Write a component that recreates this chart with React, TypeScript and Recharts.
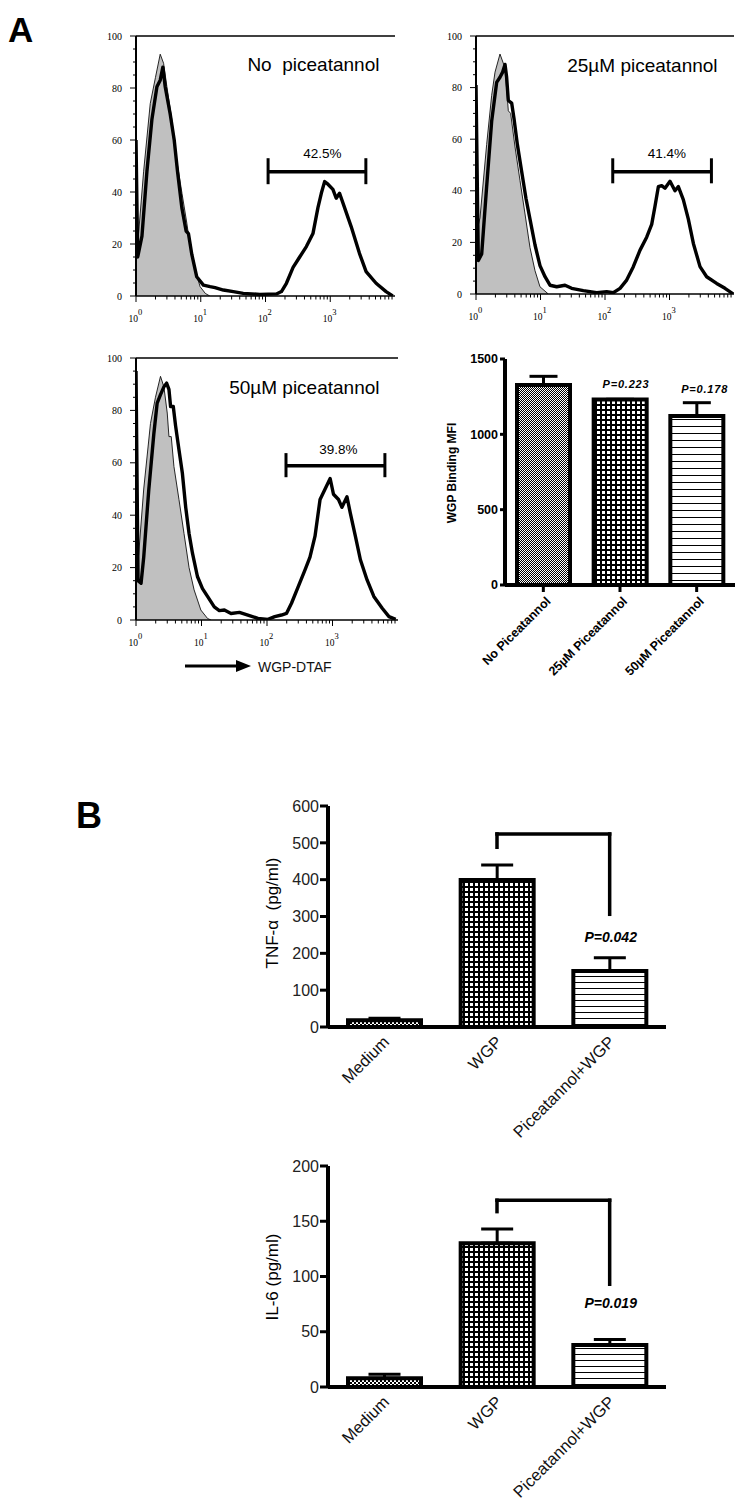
import React from 'react';
import {
  ComposedChart, Area, Line, XAxis, YAxis, ReferenceLine, ReferenceDot,
  BarChart, Bar, ErrorBar, Cell,
} from 'recharts';

type Pt = [number, number];

const SANS = '"Liberation Sans", Arial, Helvetica, sans-serif';
const SERIF = '"Liberation Serif", "Times New Roman", serif';

// ---------------- Panel A: flow histograms (x = log10 intensity, y = % max) ----------------
const histTitles = ['No\u00A0 piceatannol', '25µM piceatannol', '50µM piceatannol'];
const histTitlePos: Pt[] = [[2.74, 89.2], [2.58, 88.8], [2.57, 88.7]];
const gateLabels = ['42.5%', '41.4%', '39.8%'];
const gateLabelPos: Pt[] = [[2.88, 55], [2.96, 54.5], [3.09, 65]];
const gateStart = [2.04, 2.12, 2.29];
const gateEnd = [3.55, 3.65, 3.8];
const gateLevel = [47.8, 47.4, 58.9];
const gateCapLow = [43, 42.9, 54.5];
const gateCapHigh = [53, 52.6, 63.7];

const isoNoPic: Pt[] = [
  [0, 17.7], [0.04, 24], [0.118, 48], [0.22, 74], [0.3, 84], [0.374, 93], [0.426, 89.5],
  [0.477, 80.5], [0.554, 67.7], [0.63, 52], [0.71, 39.5], [0.785, 28], [0.836, 19],
  [0.913, 10], [0.99, 3.6], [1.07, 1], [1.14, 0],
];
const sampleNoPic: Pt[] = [
  [0, 60], [0.026, 15], [0.092, 23], [0.169, 48], [0.246, 68], [0.323, 80.5], [0.374, 83],
  [0.415, 88], [0.451, 80.5], [0.528, 70], [0.59, 60], [0.641, 48], [0.708, 34], [0.774, 25],
  [0.81, 24], [0.862, 16], [0.938, 7.4], [1.041, 4.2], [1.144, 3.6], [1.221, 3.2], [1.349, 2.3],
  [1.503, 1.7], [1.656, 1], [1.913, 0.6], [2.169, 0.8], [2.246, 1.7], [2.323, 4.9], [2.426, 11],
  [2.528, 15], [2.631, 19], [2.733, 24], [2.81, 34], [2.862, 39.5], [2.913, 44], [2.964, 43],
  [3.041, 41], [3.092, 37.6], [3.144, 39.5], [3.221, 34], [3.323, 26.7], [3.451, 16.4],
  [3.554, 9.4], [3.708, 4.9], [3.862, 1.7], [3.964, 0],
];
const iso25: Pt[] = [
  [0, 23], [0.062, 29.5], [0.165, 57.9], [0.243, 77], [0.295, 86], [0.372, 93], [0.45, 87.6],
  [0.501, 71], [0.537, 70], [0.605, 57], [0.682, 44], [0.76, 31], [0.837, 18], [0.915, 9],
  [0.992, 2.8], [1.121, 0],
];
const sample25: Pt[] = [
  [0, 81], [0.036, 13], [0.088, 15.5], [0.165, 41.6], [0.243, 67], [0.32, 82], [0.372, 84],
  [0.413, 86], [0.45, 89], [0.475, 84], [0.501, 75], [0.553, 74], [0.589, 68], [0.641, 58],
  [0.708, 47.5], [0.775, 37], [0.837, 29], [0.915, 19], [0.992, 11], [1.07, 6.7], [1.147, 3.4],
  [1.251, 2.8], [1.38, 3.4], [1.483, 2.2], [1.664, 1.3], [1.871, 0.5], [2.026, 0.9], [2.129, 0.5],
  [2.233, 2.2], [2.336, 5.4], [2.439, 10.6], [2.543, 17], [2.646, 22], [2.724, 27], [2.775, 34],
  [2.827, 41.6], [2.879, 42], [2.93, 41], [3.008, 43.7], [3.085, 40], [3.137, 41.6],
  [3.214, 36.6], [3.292, 29], [3.37, 19.6], [3.473, 10.6], [3.576, 6.7], [3.731, 4.1],
  [3.86, 2.2], [3.99, 0],
];
const iso50: Pt[] = [
  [0, 17.8], [0.041, 25], [0.118, 50], [0.221, 75], [0.297, 85], [0.374, 93], [0.426, 89],
  [0.477, 79], [0.503, 70], [0.538, 70], [0.579, 58.6], [0.656, 46], [0.733, 33], [0.81, 20],
  [0.887, 11.5], [0.99, 3.8], [1.092, 0.6], [1.144, 0],
];
const sample50: Pt[] = [
  [0, 95], [0.031, 15], [0.077, 14], [0.118, 24], [0.195, 49.7], [0.272, 71], [0.323, 82.8],
  [0.374, 86], [0.426, 89], [0.467, 90.4], [0.503, 88], [0.528, 81.5], [0.569, 81.5],
  [0.605, 74], [0.656, 65], [0.708, 56], [0.759, 43], [0.81, 33], [0.862, 25.5], [0.938, 16.6],
  [1.015, 12], [1.092, 9], [1.195, 5], [1.272, 3.6], [1.349, 3.8], [1.451, 2.5], [1.579, 2.9],
  [1.708, 1.9], [1.862, 0.6], [2.015, 0.25], [2.118, 1.3], [2.221, 1.9], [2.297, 2.5],
  [2.374, 6.4], [2.477, 12.7], [2.579, 19], [2.656, 24], [2.733, 32], [2.81, 46], [2.887, 50],
  [2.964, 54], [3.015, 48], [3.092, 46], [3.144, 43], [3.221, 47], [3.272, 40.8], [3.349, 32],
  [3.426, 23], [3.528, 15.3], [3.631, 9], [3.759, 4.5], [3.862, 1.3], [3.964, 0.25],
];
const isoCurves = [isoNoPic, iso25, iso50];
const sampleCurves = [sampleNoPic, sample25, sample50];

const decadeExponents = [0, 1, 2, 3];
const decadeMinor = [2, 3, 4, 5, 6, 7, 8, 9];
const pctLabels = [0, 20, 40, 60, 80, 100];
const pctMinorStep = 5;

const logTicks: number[] = [];
decadeExponents.forEach((d) => {
  logTicks.push(d);
  decadeMinor.forEach((k) => logTicks.push(d + Math.log10(k)));
});
const pctTicks: number[] = [];
for (let v = 0; v <= 100; v += pctMinorStep) pctTicks.push(v);

// ---------------- Panel A: MFI bar chart ----------------
const mfiCategories = ['No Piceatannol', '25µM Piceatannol', '50µM Piceatannol'];
const mfiMean = [1328, 1232, 1122];
const mfiErr = [57, 0, 88];
const mfiPText = ['', 'P=0.223', 'P=0.178'];
const mfiPLevel = [0, 1334, 1301];
const mfiTicks = [0, 500, 1000, 1500];

// ---------------- Panel B: cytokines ----------------
const cytoCategories = ['Medium', 'WGP', 'Piceatannol+WGP'];
const tnfMean = [18, 399, 152];
const tnfErr = [6, 41, 36];
const tnfTicks = [0, 100, 200, 300, 400, 500, 600];
const tnfBracket = { top: 524, leftEnd: 488, rightEnd: 306 };
const tnfP = { text: 'P=0.042', level: 245 };

const il6Mean = [8, 130, 38];
const il6Err = [3.5, 13, 5];
const il6Ticks = [0, 50, 100, 150, 200];
const il6Bracket = { top: 169, leftEnd: 158.7, rightEnd: 93 };
const il6P = { text: 'P=0.019', level: 75.6 };

const barPatterns = ['checker', 'grid', 'hlines'];

const toXY = (pts: Pt[]) => pts.map(([x, y]) => ({ x, y }));

const patternDefs = (id: string, cell: number, lineGap: number) => (
  <defs>
    <pattern id={`${id}-checker`} patternUnits="userSpaceOnUse" width={cell * 2} height={cell * 2}>
      <rect width={cell * 2} height={cell * 2} fill="#fff" />
      <rect width={cell} height={cell} fill="#000" />
      <rect x={cell} y={cell} width={cell} height={cell} fill="#000" />
    </pattern>
    <pattern id={`${id}-grid`} patternUnits="userSpaceOnUse" width={5} height={5}>
      <rect width={5} height={5} fill="#000" />
      <rect x={2} y={2} width={3} height={3} fill="#fff" />
    </pattern>
    <pattern id={`${id}-hlines`} patternUnits="userSpaceOnUse" width={8} height={lineGap}>
      <rect width={8} height={lineGap} fill="#fff" />
      <rect width={8} height={1} fill="#000" />
    </pattern>
  </defs>
);

const logTick = (props: any) => {
  const { x, y, payload } = props;
  const v = payload.value as number;
  const major = Math.abs(v - Math.round(v)) < 1e-6;
  return (
    <g>
      <line x1={x} y1={y} x2={x} y2={y + (major ? 6 : 3.5)} stroke="#000" strokeWidth={1} />
      {major && (
        <text x={x - 7.5} y={y + 25.5} fontFamily={SERIF} fontSize={9.5} fill="#000">
          10
          <tspan dy={-6.5} fontSize={8.5}>{String(Math.round(v))}</tspan>
        </text>
      )}
    </g>
  );
};

const pctTick = (props: any) => {
  const { x, y, payload } = props;
  const v = payload.value as number;
  const major = pctLabels.includes(v);
  return (
    <g>
      <line x1={x} y1={y} x2={x - (major ? 6 : 3)} y2={y} stroke="#000" strokeWidth={1} />
      {major && (
        <text x={x - 14} y={y} dy="0.35em" textAnchor="end" fontFamily={SERIF} fontSize={10} fill="#000">
          {v}
        </text>
      )}
    </g>
  );
};

interface HistProps { idx: number; left: number; top: number; width: number; height: number; }

function FlowHistogram({ idx, left, top, width, height }: HistProps) {
  const iso = toXY(isoCurves[idx]);
  const sample = toXY(sampleCurves[idx]);
  const gl = gateLevel[idx];
  return (
    <div style={{ position: 'absolute', left, top }}>
      <ComposedChart width={width} height={height} margin={{ top: 10, right: 10, left: 0, bottom: 0 }}>
        <XAxis
          type="number" dataKey="x" domain={[0, 4]} ticks={logTicks} interval={0}
          allowDataOverflow tickLine={false} tickSize={0} tickMargin={0} tick={logTick}
          axisLine={{ stroke: '#000', strokeWidth: 1.5 }} height={36}
        />
        <YAxis
          type="number" domain={[0, 100]} ticks={pctTicks} interval={0} allowDataOverflow
          width={36} tickLine={false} tickSize={0} tickMargin={0} tick={pctTick}
          axisLine={{ stroke: '#000', strokeWidth: 2 }}
        />
        <ReferenceLine y={100} stroke="#000" strokeWidth={1.5} />
        <Area
          data={iso} dataKey="y" type="linear" fill="#c0c0c0" fillOpacity={1}
          stroke="#111" strokeWidth={0.9} dot={false} activeDot={false} isAnimationActive={false}
        />
        <Line
          data={sample} dataKey="y" type="linear" stroke="#000" strokeWidth={3.4}
          strokeLinejoin="round" dot={false} activeDot={false} isAnimationActive={false}
        />
        <ReferenceLine
          segment={[{ x: gateStart[idx], y: gl }, { x: gateEnd[idx], y: gl }]}
          stroke="#000" strokeWidth={3.5}
        />
        <ReferenceLine
          segment={[{ x: gateStart[idx], y: gateCapLow[idx] }, { x: gateStart[idx], y: gateCapHigh[idx] }]}
          stroke="#000" strokeWidth={3}
        />
        <ReferenceLine
          segment={[{ x: gateEnd[idx], y: gateCapLow[idx] }, { x: gateEnd[idx], y: gateCapHigh[idx] }]}
          stroke="#000" strokeWidth={3}
        />
        <ReferenceDot
          x={gateLabelPos[idx][0]} y={gateLabelPos[idx][1]} r={0} fill="none" stroke="none"
          label={{ value: gateLabels[idx], position: 'center', fontSize: 13.5, fill: '#000', fontFamily: SANS }}
        />
        <ReferenceDot
          x={histTitlePos[idx][0]} y={histTitlePos[idx][1]} r={0} fill="none" stroke="none"
          label={{ value: histTitles[idx], position: 'center', fontSize: 19, fill: '#000', fontFamily: SANS }}
        />
      </ComposedChart>
    </div>
  );
}

const rotTickA = (props: any) => {
  const { x, y, payload } = props;
  return (
    <g transform={`translate(${x + 8},${y + 10}) rotate(-45)`}>
      <text x={0} y={0} textAnchor="end" fontFamily={SANS} fontWeight="bold" fontSize={12.5} fill="#000">
        {payload.value}
      </text>
    </g>
  );
};

const rotTickB = (props: any) => {
  const { x, y, payload } = props;
  return (
    <g transform={`translate(${x + 6},${y + 16}) rotate(-45)`}>
      <text x={0} y={0} textAnchor="end" fontFamily={SANS} fontSize={16.5} fill="#111">
        {payload.value}
      </text>
    </g>
  );
};

function MfiChart() {
  const data = mfiCategories.map((name, i) => ({ name, v: mfiMean[i], e: [0, mfiErr[i]] }));
  return (
    <div style={{ position: 'absolute', left: 420, top: 349 }}>
      <BarChart width={325} height={356} data={data} margin={{ top: 10, right: 10, left: 0, bottom: 0 }}>
        {patternDefs('mfi', 1, 7)}
        <XAxis
          dataKey="name" interval={0} height={120} tickSize={7} tickMargin={0}
          tickLine={{ stroke: '#000', strokeWidth: 3 }} axisLine={{ stroke: '#000', strokeWidth: 4 }}
          tick={rotTickA}
        />
        <XAxis
          xAxisId="top" orientation="top" dataKey="name" height={0} tick={false} tickLine={false}
          axisLine={{ stroke: '#000', strokeWidth: 4 }}
        />
        <YAxis
          domain={[0, 1500]} ticks={mfiTicks} interval={0} width={85} tickSize={5} tickMargin={2}
          tickLine={{ stroke: '#000', strokeWidth: 3 }} axisLine={{ stroke: '#000', strokeWidth: 4 }}
          tick={{ fontSize: 12.5, fontWeight: 'bold', fill: '#000', fontFamily: SANS }}
        />
        <YAxis
          yAxisId="right" orientation="right" domain={[0, 1500]} width={0} tick={false} tickLine={false}
          axisLine={{ stroke: '#000', strokeWidth: 4 }}
        />
        <Bar dataKey="v" barSize={53} stroke="#000" strokeWidth={4} isAnimationActive={false}>
          {data.map((d, i) => (
            <Cell key={d.name} fill={`url(#mfi-${barPatterns[i]})`} />
          ))}
          <ErrorBar dataKey="e" direction="y" width={14} stroke="#000" strokeWidth={3} />
        </Bar>
        {mfiCategories.map((c, i) =>
          mfiPText[i] ? (
            <ReferenceDot
              key={c} x={c} y={mfiPLevel[i]} r={0} fill="none" stroke="none"
              label={{
                value: mfiPText[i], position: 'center', dx: i === 1 ? 6 : 8, fontSize: 11,
                fontWeight: 'bold', fontStyle: 'italic', letterSpacing: 0.8, fill: '#000', fontFamily: SANS,
              }}
            />
          ) : null,
        )}
      </BarChart>
    </div>
  );
}

interface CytoProps {
  top: number; mean: number[]; err: number[]; ticks: number[]; max: number;
  bracket: { top: number; leftEnd: number; rightEnd: number }; p: { text: string; level: number }; id: string;
}

function CytokineChart({ top, mean, err, ticks, max, bracket, p, id }: CytoProps) {
  const data = cytoCategories.map((name, i) => ({ name, v: mean[i], e: [0, err[i]] }));
  const [, wgp, pic] = cytoCategories;
  return (
    <div style={{ position: 'absolute', left: 268, top }}>
      <BarChart width={408} height={361} data={data} margin={{ top: 10, right: 10, left: 0, bottom: 0 }}>
        {patternDefs(id, 2, 6)}
        <XAxis
          dataKey="name" interval={0} height={130} tickSize={0} tickMargin={0} tickLine={false}
          axisLine={{ stroke: '#000', strokeWidth: 4 }} tick={rotTickB}
        />
        <XAxis
          xAxisId="top" orientation="top" dataKey="name" height={0} tick={false} tickLine={false}
          axisLine={{ stroke: '#000', strokeWidth: 4 }}
        />
        <YAxis
          domain={[0, max]} ticks={ticks} interval={0} width={60} tickSize={8} tickMargin={1}
          tickLine={{ stroke: '#000', strokeWidth: 3 }} axisLine={{ stroke: '#000', strokeWidth: 4 }}
          tick={{ fontSize: 16, fill: '#222', fontFamily: SANS }}
        />
        <Bar dataKey="v" barSize={73} stroke="#000" strokeWidth={4} isAnimationActive={false}>
          {data.map((d, i) => (
            <Cell key={d.name} fill={`url(#${id}-${barPatterns[i]})`} />
          ))}
          <ErrorBar dataKey="e" direction="y" width={16} stroke="#000" strokeWidth={3} />
        </Bar>
        <ReferenceLine
          segment={[{ x: wgp, y: bracket.top }, { x: pic, y: bracket.top }]}
          stroke="#000" strokeWidth={3.5} strokeLinecap="square"
        />
        <ReferenceLine
          segment={[{ x: wgp, y: bracket.top }, { x: wgp, y: bracket.leftEnd }]}
          stroke="#000" strokeWidth={3.5} strokeLinecap="square"
        />
        <ReferenceLine
          segment={[{ x: pic, y: bracket.top }, { x: pic, y: bracket.rightEnd }]}
          stroke="#000" strokeWidth={3.5} strokeLinecap="square"
        />
        <ReferenceDot
          x={pic} y={p.level} r={0} fill="none" stroke="none"
          label={{
            value: p.text, position: 'center', dx: 1, fontSize: 14, fontWeight: 'bold',
            fontStyle: 'italic', fill: '#000', fontFamily: SANS,
          }}
        />
      </BarChart>
    </div>
  );
}

export default function App() {
  return (
    <div style={{ position: 'absolute', left: 0, top: 0, width: 753, height: 1509, background: '#fff', overflow: 'hidden' }}>
      <FlowHistogram idx={0} left={100} top={26} width={305} height={306} />
      <FlowHistogram idx={1} left={440} top={26} width={304} height={304} />
      <FlowHistogram idx={2} left={100} top={348} width={308} height={308} />
      <MfiChart />
      <CytokineChart top={796} mean={tnfMean} err={tnfErr} ticks={tnfTicks} max={600} bracket={tnfBracket} p={tnfP} id="tnf" />
      <CytokineChart top={1156} mean={il6Mean} err={il6Err} ticks={il6Ticks} max={200} bracket={il6Bracket} p={il6P} id="il6" />
      <svg width={753} height={1509} style={{ position: 'absolute', left: 0, top: 0, pointerEvents: 'none' }}>
        <text x={8} y={42} fontFamily={SANS} fontWeight="bold" fontSize={35} fill="#000">A</text>
        <text x={76} y={828} fontFamily={SANS} fontWeight="bold" fontSize={36} fill="#000">B</text>
        <line x1={185} y1={666} x2={240} y2={666} stroke="#000" strokeWidth={3} />
        <polygon points="236,660 251,666 236,672" fill="#000" />
        <text x={258} y={672} fontFamily={SANS} fontSize={14} fill="#111">WGP-DTAF</text>
        <text x={452} y={473} transform="rotate(-90 452 473)" textAnchor="middle" dominantBaseline="central"
          fontFamily={SANS} fontWeight="bold" fontSize={12} fill="#000">WGP Binding MFI</text>
        <text x={272} y={913} transform="rotate(-90 272 913)" textAnchor="middle" dominantBaseline="central"
          fontFamily={SANS} fontSize={17} fill="#000">{'TNF-α\u00A0 (pg/ml)'}</text>
        <text x={272} y={1277} transform="rotate(-90 272 1277)" textAnchor="middle" dominantBaseline="central"
          fontFamily={SANS} fontSize={17} fill="#000">IL-6 (pg/ml)</text>
      </svg>
    </div>
  );
}
